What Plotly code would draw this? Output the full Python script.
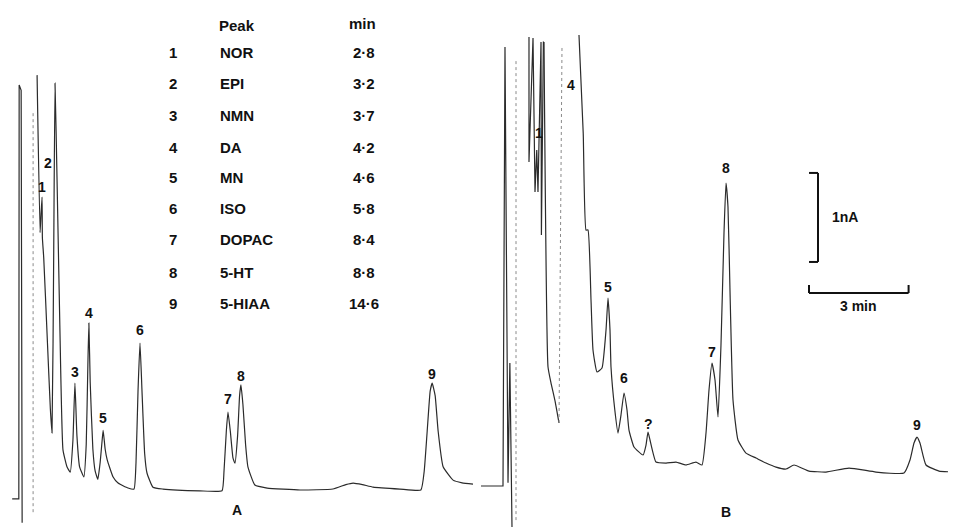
import plotly.graph_objects as go

# ---------------- data (time in min, detector current in nA) ----------------
# Chromatogram A (standards): injection artefact strokes, then the traced pen line
A_inject_time = [1.95, 2.15, 2.16, 2.22, 2.25]
A_inject_signal = [-0.11, -0.11, 4.54, 4.48, -0.38]
A_time = [2.70, 2.79, 2.82, 2.85, 2.86, 2.90, 3.00, 3.10, 3.15, 3.20, 3.24, 3.30, 3.39,
          3.48, 3.60, 3.70, 3.78, 3.84, 3.90, 3.98, 4.11, 4.18, 4.23, 4.26, 4.30, 4.38,
          4.45, 4.53, 4.60, 4.66, 4.69, 4.75, 4.81, 4.99, 5.14, 5.44, 5.62, 5.68, 5.74,
          5.80, 5.86, 5.94, 6.01, 6.19, 6.49, 7.60, 8.27, 8.33, 8.40, 8.45, 8.52, 8.60,
          8.66, 8.74, 8.80, 8.84, 8.90, 8.98, 9.05, 9.26, 9.63, 10.62, 11.61, 12.00,
          12.22, 12.50, 12.82, 13.63, 14.26, 14.36, 14.45, 14.54, 14.60, 14.69, 14.78,
          14.93, 15.23, 15.50, 15.83]
A_signal = [4.65, 2.88, 3.10, 3.28, 2.82, 2.60, 1.75, 0.90, 0.63, 2.60, 4.56, 3.50, 1.75,
            0.44, 0.25, 0.19, 0.55, 1.19, 0.60, 0.25, 0.135, 0.50, 1.40, 1.865, 1.20, 0.45,
            0.20, 0.11, 0.30, 0.55, 0.66, 0.45, 0.33, 0.135, 0.067, 0.011, 0.0, 0.30, 1.10,
            1.64, 1.10, 0.40, 0.18, 0.02, 0.0, -0.02, -0.02, 0.20, 0.65, 0.865, 0.65, 0.35,
            0.29, 0.60, 1.05, 1.17, 0.95, 0.50, 0.25, 0.045, 0.011, -0.011, 0.0, 0.05,
            0.067, 0.05, 0.022, 0.0, -0.011, 0.20, 0.65, 1.10, 1.19, 1.05, 0.65,
            0.25, 0.10, 0.07, 0.056]
A_fast_time = [2.58, 2.58]
A_fast_signal = [-0.26, 4.23]

# Chromatogram B (sample)
B_inject_time = [1.42, 2.083, 2.143, 2.234, 2.29, 2.354, None,
                 2.866, 2.866, 2.987, 3.047, 3.10, 3.137, 3.228, 3.24, 3.30, 3.318]
B_inject_signal = [-0.157, -0.157, 4.775, -0.12, 1.225, -0.618, None,
                   4.888, 3.483, 4.876, 3.146, 3.618, 3.146, 4.831, 2.663, 4.831, 4.831]
B_time = [3.318, 3.439, 3.529, 3.65, 3.77, None,
          4.372, 4.50, 4.583, 4.643, 4.734, 4.794, 4.914, 5.065, 5.186, 5.246, 5.306,
          5.336, 5.45, 5.547, 5.637, 5.728, 5.818, 5.878, 6.029, 6.30, 6.391, 6.451,
          6.511, 6.692, 6.993, 7.294, 7.595, 7.896, 8.077, 8.198, 8.288, 8.378, 8.469,
          8.559, 8.649, 8.740, 8.800, 8.860, 8.920, 9.011, 9.161, 9.402, 9.704, 10.005,
          10.306, 10.607, 10.848, 11.30, 11.812, 12.505, 13.318, 14.161, 14.342, 14.463,
          14.553, 14.643, 14.824, 15.216, 15.728]
B_signal = [4.831, 1.180, 1.0, 0.80, 0.551, None,
            4.910, 3.80, 2.719, 2.719, 1.933, 1.371, 1.124, 1.169, 1.596, 1.955, 1.596,
            1.180, 0.70, 0.438, 0.640, 0.888, 0.697, 0.472, 0.281, 0.191, 0.303, 0.449,
            0.360, 0.112, 0.101, 0.112, 0.079, 0.112, 0.079, 0.438, 0.921, 1.225, 1.034,
            0.618, 1.427, 2.685, 3.247, 2.978, 2.045, 0.809, 0.360, 0.213, 0.157, 0.101,
            0.056, 0.034, 0.079, 0.011, 0.0, 0.045, 0.0, -0.011, 0.135, 0.326,
            0.393, 0.326, 0.079, 0.011, 0.0]
B_fast_time = [2.475, 2.475, None, 3.77, 3.86]
B_fast_signal = [-0.54, 4.63, None, 0.551, 4.764]

# Peak labels
A_peak_labels = ["1", "2", "3", "4", "5", "6", "7", "8", "9"]
A_label_time = [2.848, 3.029, 3.842, 4.264, 4.686, 5.80, 8.451, 8.842, 14.595]
A_label_level = [3.393, 3.663, 1.315, 1.978, 0.798, 1.787, 1.011, 1.270, 1.292]

B_peak_labels = ["1", "4", "5", "6", "?", "7", "8", "9"]
B_label_time = [3.167, 4.131, 5.246, 5.728, 6.451, 8.378, 8.80, 14.553]
B_label_level = [3.809, 4.348, 2.079, 1.056, 0.539, 1.348, 3.416, 0.528]

# Peak identification table
table_peak = ["1", "2", "3", "4", "5", "6", "7", "8", "9"]
table_name = ["NOR", "EPI", "NMN", "DA", "MN", "ISO", "DOPAC", "5-HT", "5-HIAA"]
table_min = ["2·8", "3·2", "3·7", "4·2", "4·6", "5·8", "8·4", "8·8", "14·6"]

# Scale bars
scale_current_nA = 1.0
scale_time_min = 3.0

# ---------------- figure ----------------
# page has an 8 px body margin; the figure is sized so it ends at the window edge
OFF = 8
W, H = 956 - OFF, 529 - OFF
LINE = "#2b2b2b"
FONT = dict(family="Liberation Sans, Arial, sans-serif", size=14, color="#111111", weight="bold")
TFONT = dict(family="Liberation Sans, Arial, sans-serif", size=15, color="#111111", weight="bold")

fig = go.Figure()


def add_line(x, y, axes, smooth, color=LINE, width=1.2, dash="solid"):
    line = dict(color=color, width=width, dash=dash)
    if smooth:
        line.update(shape="spline", smoothing=0.4)
    fig.add_trace(go.Scatter(x=x, y=y, mode="lines", xaxis=axes[0], yaxis=axes[1], line=line,
                             connectgaps=False, hoverinfo="skip"))


add_line(A_inject_time, A_inject_signal, ("x", "y"), False)
add_line(A_time, A_signal, ("x", "y"), True)
add_line(A_fast_time, A_fast_signal, ("x", "y"), False, color="#8a8a8a", width=1, dash="dot")
add_line(B_inject_time, B_inject_signal, ("x2", "y2"), False)
add_line(B_time, B_signal, ("x2", "y2"), True)
add_line(B_fast_time, B_fast_signal, ("x2", "y2"), False, color="#8a8a8a", width=1, dash="dot")

ann = []
for lab, t, v in zip(A_peak_labels, A_label_time, A_label_level):
    ann.append(dict(x=t, y=v, xref="x", yref="y", text=lab, showarrow=False, font=FONT,
                    xanchor="center", yanchor="middle"))
for lab, t, v in zip(B_peak_labels, B_label_time, B_label_level):
    ann.append(dict(x=t, y=v, xref="x2", yref="y2", text=lab, showarrow=False, font=FONT,
                    xanchor="center", yanchor="middle"))


def px(xp, yp):
    return (xp - OFF) / W, 1 - (yp - OFF) / H


def paper_text(text, xp, yp, xanchor="center", font=TFONT):
    x, y = px(xp, yp)
    ann.append(dict(x=x, y=y, xref="paper", yref="paper", text=text, showarrow=False,
                    xanchor=xanchor, yanchor="middle", font=font))


row_y = [53, 83, 115, 147, 178, 208, 240, 272, 303]
paper_text("Peak", 237, 25)
paper_text("min", 362, 23)
for p, n, m, ry in zip(table_peak, table_name, table_min, row_y):
    paper_text(p, 173, ry)
    paper_text(n, 218, ry, xanchor="left")
    paper_text(m, 364, ry)

paper_text("A", 237, 510, font=FONT)
paper_text("B", 726, 512, font=FONT)

# scale bars (in panel B data units)
bar_t = 11.571
bar_y0 = 2.36
tick_len = 0.27
h_t0 = 11.30
h_y = 2.011
BAR = dict(color="#111", width=2)
shapes = [
    dict(type="line", xref="x2", yref="y2", x0=bar_t, x1=bar_t, y0=bar_y0,
         y1=bar_y0 + scale_current_nA, line=BAR),
    dict(type="line", xref="x2", yref="y2", x0=bar_t - tick_len, x1=bar_t, y0=bar_y0,
         y1=bar_y0, line=BAR),
    dict(type="line", xref="x2", yref="y2", x0=bar_t - tick_len, x1=bar_t,
         y0=bar_y0 + scale_current_nA, y1=bar_y0 + scale_current_nA, line=BAR),
    dict(type="line", xref="x2", yref="y2", x0=h_t0, x1=h_t0 + scale_time_min, y0=h_y, y1=h_y,
         line=BAR),
    dict(type="line", xref="x2", yref="y2", x0=h_t0, x1=h_t0, y0=h_y, y1=h_y + 0.09, line=BAR),
    dict(type="line", xref="x2", yref="y2", x0=h_t0 + scale_time_min, x1=h_t0 + scale_time_min,
         y0=h_y, y1=h_y + 0.09, line=BAR),
]
paper_text("1nA", 845, 217, font=FONT)
paper_text("3 min", 858, 306, font=FONT)

fig.update_layout(
    width=W, height=H, margin=dict(l=0, r=0, t=0, b=0),
    paper_bgcolor="white", plot_bgcolor="white", showlegend=False,
    xaxis=dict(domain=[0, 1], range=[1.824, 30.378], visible=False, fixedrange=True),
    yaxis=dict(domain=[0, 1], range=[-0.449, 5.404], visible=False, anchor="x"),
    xaxis2=dict(domain=[0, 1], range=[-12.827, 15.728], visible=False, overlaying="x"),
    yaxis2=dict(domain=[0, 1], range=[-0.640, 5.213], visible=False, overlaying="y", anchor="x2"),
    annotations=ann, shapes=shapes,
)
fig.write_html("out.html")
